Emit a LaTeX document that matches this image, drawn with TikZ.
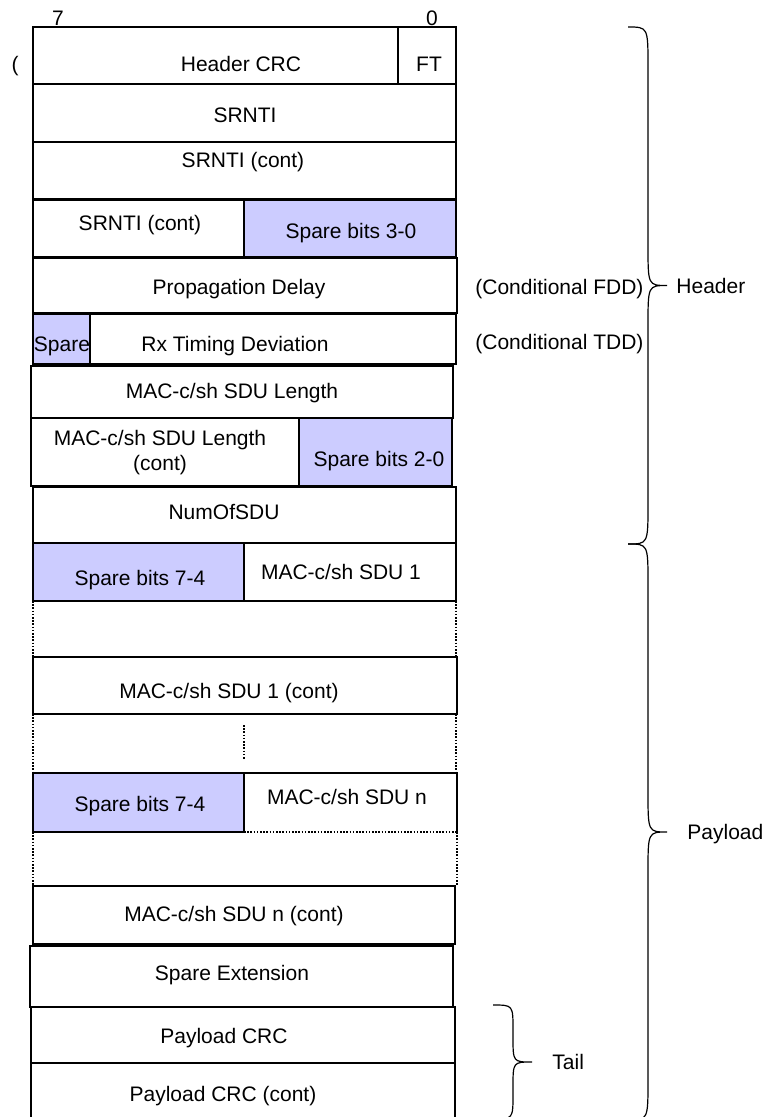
\documentclass[tikz,border=0pt]{standalone}
\usepackage{fontspec}
\setmainfont{Liberation Sans}
\usetikzlibrary{positioning}

\definecolor{sparebg}{RGB}{204,204,255}

% curly brace: xend, xline, xtip, ytop, ybot, radius, tip name
\newcommand{\sidebrace}[7]{%
  \pgfmathsetmacro{\ymid}{(#4+#5)/2}
  \draw[bracepath] (#1,#4) .. controls (#2,#4) .. (#2,#4+#6) -- (#2,\ymid-#6)
    .. controls (#2,\ymid) .. (#3,\ymid) .. controls (#2,\ymid) .. (#2,\ymid+#6)
    -- (#2,#5-#6) .. controls (#2,#5) .. (#1,#5);
  \coordinate (#7) at (#3,\ymid);}

\begin{document}
\begin{tikzpicture}[x=0.5pt,y=-0.5pt,
    lbl/.style={font=\fontsize{10.5}{12.5}\selectfont,inner sep=0pt,text height=7.5pt,text depth=0pt},
    cell/.style={draw,line width=0.6pt},
    spare/.style={cell,fill=sparebg},
    gap/.style={line width=0.6pt,dash pattern=on 0.8pt off 0.8pt},
    bracepath/.style={line width=0.6pt}]
  \useasboundingbox (0,0) rectangle (763,1117);

  \node[lbl] (bit7) at (58,18) {7};
  \node[lbl] (bit0) at (432,18) {0};
  \node[lbl] (paren) at (15,64) {(};

  % header fields
  \draw[cell] (33,27) rectangle (456,84);
  \draw[cell] (398,27) -- (398,84);
  \node[lbl] (hcrc) at (241,64) {Header CRC};
  \node[lbl] (ft) at (429,64) {FT};
  \draw[cell] (33,84) rectangle (456,142);
  \node[lbl] (srnti) at (245,115) {SRNTI};
  \draw[cell] (33,142) rectangle (456,199);
  \node[lbl] (srntic) at (243,160) {SRNTI (cont)};
  \draw[cell] (33,200) rectangle (244,257);
  \draw[spare] (244,200) rectangle (456,257);
  \node[lbl] (srnticc) at (140,223) {SRNTI (cont)};
  \node[lbl] (sparea) at (351,231) {Spare bits 3-0};
  \draw[cell] (33,258) rectangle (457,313);
  \node[lbl] (pdelay) at (239,287) {Propagation Delay};
  \draw[spare] (33,314) rectangle (90,364);
  \draw[cell] (90,314) rectangle (456,364);
  \node[lbl] (spareb) at (62,344) {Spare};
  \node[lbl] (rxtd) at (235,344) {Rx Timing Deviation};
  \draw[cell] (31,366) rectangle (453,418);
  \node[lbl] (sdulen) at (232,391) {MAC-c/sh SDU Length};
  \draw[cell] (31,418) rectangle (299,486);
  \draw[spare] (299,418) rectangle (452,486);
  \node[font=\fontsize{10.5}{12.5}\selectfont,inner sep=0pt,align=center] (sdulenc) at (160,453) {MAC-c/sh SDU Length\\(cont)};
  \node[lbl] (sparec) at (379,459) {Spare bits 2-0};
  \draw[cell] (33,487) rectangle (456,543);
  \node[lbl] (numsdu) at (224,512) {NumOfSDU};

  % payload fields
  \draw[spare] (33,543) rectangle (244,601);
  \draw[cell] (244,543) rectangle (456,601);
  \node[lbl] (spared) at (140,578) {Spare bits 7-4};
  \node[lbl] (sdua) at (341,572) {MAC-c/sh SDU 1};
  \draw[gap] (33,601) -- (33,657) (456,601) -- (456,657);
  \draw[cell] (33,657) rectangle (457,714);
  \node[lbl] (sduac) at (229,691) {MAC-c/sh SDU 1 (cont)};
  \draw[gap] (33,714) -- (33,773) (244,725) -- (244,760) (456,714) -- (456,773);
  \draw[spare] (33,773) rectangle (244,832);
  \draw[cell] (244,832) -- (244,773) -- (457,773) -- (457,832);
  \draw[gap] (244,832) -- (457,832);
  \node[lbl] (sparee) at (140,804) {Spare bits 7-4};
  \node[lbl] (sdun) at (347,797) {MAC-c/sh SDU n};
  \draw[gap] (33,832) -- (33,886) (457,832) -- (457,886);
  \draw[cell] (33,886) rectangle (455,944);
  \node[lbl] (sdunc) at (234,914) {MAC-c/sh SDU n (cont)};
  \draw[cell] (30,946) rectangle (453,1007);
  \node[lbl] (spext) at (232,973) {Spare Extension};

  % tail fields
  \draw[cell] (31,1007) rectangle (455,1063);
  \node[lbl] (pcrc) at (224,1036) {Payload CRC};
  \draw[cell] (31,1063) rectangle (455,1125);
  \node[lbl] (pcrcc) at (223,1094) {Payload CRC (cont)};

  \node[lbl,anchor=west] (fdd) at (475,287) {(Conditional FDD)};
  \node[lbl,anchor=west] (tdd) at (475,342) {(Conditional TDD)};

  % braces
  \sidebrace{628}{648}{667}{27}{544}{40}{htip}
  \sidebrace{628}{648}{667}{544}{1120}{40}{ptip}
  \sidebrace{493}{513}{532}{1005}{1119}{25}{ttip}
  \node[lbl,right=4.5pt of htip] (header) {Header};
  \node[lbl,right=10pt of ptip] (payload) {Payload};
  \node[lbl,right=10pt of ttip] (tail) {Tail};
\end{tikzpicture}
\end{document}
